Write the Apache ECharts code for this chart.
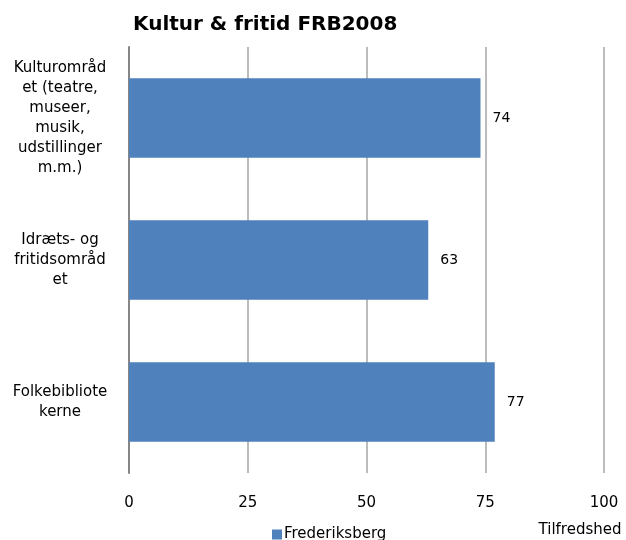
<!DOCTYPE html>
<html>
<head>
<meta charset="utf-8">
<script src="https://cdn.jsdelivr.net/npm/echarts@6/dist/echarts.min.js"></script>
<style>
  html, body { margin: 0; padding: 0; background: #fff; }
  #chart { width: 626px; height: 540px; }
</style>
</head>
<body>
<div id="chart"></div>
<script>
// data
var categories = [
  'Kulturområd\net (teatre,\nmuseer,\nmusik,\nudstillinger\nm.m.)',
  'Idræts- og\nfritidsområd\net',
  'Folkebibliote\nkerne'
];
var values = [74, 63, 77];
var seriesName = 'Frederiksberg';
var xTicks = [0, 25, 50, 75, 100];

var font = '"DejaVu Sans", Verdana, sans-serif';
var chart = echarts.init(document.getElementById('chart'));

var option = {
  animation: false,
  title: {
    text: 'Kultur & fritid FRB2008',
    left: 128,
    top: 10,
    textStyle: { fontFamily: font, fontSize: 20, fontWeight: 'bold', color: '#000' }
  },
  legend: {
    data: [seriesName],
    left: 267,
    top: 522,
    itemWidth: 10,
    itemHeight: 10,
    itemGap: 4,
    icon: 'rect',
    textStyle: { fontFamily: font, fontSize: 15, color: '#000', padding: [0, 0, 0, -3] }
  },
  grid: { left: 129, right: 22, top: 47, bottom: 67, containLabel: false },
  xAxis: {
    type: 'value',
    min: xTicks[0],
    max: xTicks[xTicks.length - 1],
    interval: 25,
    name: 'Tilfredshed',
    nameLocation: 'end',
    nameGap: -24,
    nameTextStyle: {
      fontFamily: font, fontSize: 15, color: '#000',
      align: 'center', verticalAlign: 'top', padding: [50, 0, 0, 0]
    },
    axisLine: { show: false },
    axisTick: { show: false },
    axisLabel: { fontFamily: font, fontSize: 15, color: '#000', margin: 23 },
    splitLine: { show: true, lineStyle: { color: '#a6a6a6', width: 1.5 } }
  },
  yAxis: {
    type: 'category',
    inverse: true,
    data: categories,
    axisLine: { show: true, lineStyle: { color: '#868686', width: 2 } },
    axisTick: { show: false },
    axisLabel: {
      fontFamily: font, fontSize: 15, color: '#000',
      align: 'center', margin: 69, lineHeight: 20
    }
  },
  series: [{
    name: seriesName,
    type: 'bar',
    data: values,
    barCategoryGap: '44%',
    itemStyle: { color: '#4f81bd' },
    label: {
      show: true,
      position: 'right',
      distance: 12,
      fontFamily: font,
      fontSize: 14,
      color: '#000'
    }
  }]
};
chart.setOption(option);
</script>
</body>
</html>
